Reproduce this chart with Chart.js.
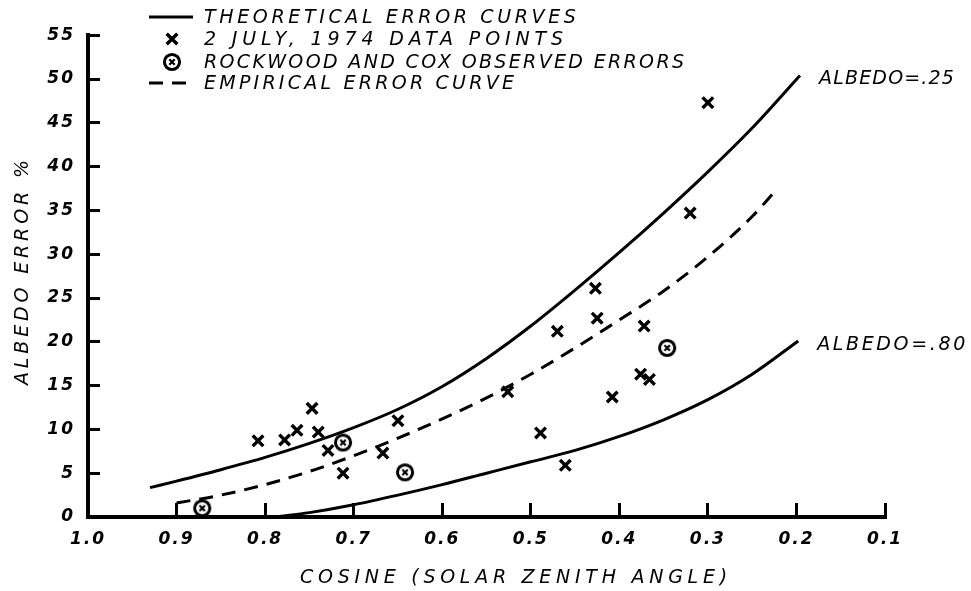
<!DOCTYPE html>
<html>
<head>
<meta charset="utf-8">
<script src="https://cdn.jsdelivr.net/npm/chart.js@4.4.1/dist/chart.umd.min.js"></script>
<style>
  html, body { margin: 0; padding: 0; background: #fff; }
  #wrap { width: 971px; height: 591px; position: relative; }
</style>
</head>
<body>
<div id="wrap"><canvas id="grafica"></canvas></div>
<script>
// Theoretical error curve, albedo .25
const upperX = [0.93, 0.90, 0.85, 0.80, 0.75, 0.70, 0.65, 0.60, 0.55, 0.50, 0.45, 0.40, 0.35, 0.30, 0.25, 0.196];
const upperY = [3.35, 4.1, 5.4, 6.8, 8.4, 10.2, 12.3, 14.9, 18.1, 21.8, 25.9, 30.2, 34.7, 39.4, 44.4, 50.4];

// Theoretical error curve, albedo .80
const lowerX = [0.787, 0.75, 0.70, 0.65, 0.60, 0.55, 0.50, 0.45, 0.40, 0.35, 0.30, 0.25, 0.198];
const lowerY = [0.0, 0.5, 1.4, 2.5, 3.7, 5.0, 6.3, 7.6, 9.2, 11.1, 13.4, 16.3, 20.1];

// Empirical error curve (dashed)
const empX = [0.90, 0.85, 0.80, 0.75, 0.70, 0.65, 0.60, 0.55, 0.50, 0.45, 0.40, 0.35, 0.30, 0.25, 0.224];
const empY = [1.6, 2.5, 3.7, 5.2, 7.0, 9.0, 11.2, 13.6, 16.3, 19.3, 22.5, 25.8, 29.7, 34.3, 37.2];

// 2 July 1974 data points
const julyX = [0.808, 0.778, 0.764, 0.747, 0.740, 0.729, 0.712, 0.667, 0.650, 0.526, 0.489, 0.470, 0.461, 0.427, 0.425, 0.408, 0.376, 0.372, 0.366, 0.320, 0.300];
const julyY = [8.7, 8.8, 9.9, 12.4, 9.7, 7.6, 5.0, 7.3, 11.0, 14.3, 9.6, 21.2, 5.9, 26.1, 22.7, 13.7, 16.3, 21.8, 15.7, 34.7, 47.3];

// Rockwood and Cox observed errors
const rockX = [0.871, 0.712, 0.642, 0.346];
const rockY = [1.0, 8.5, 5.1, 19.3];

const labels = ["THEORETICAL ERROR CURVES", "2 JULY, 1974 DATA POINTS", "ROCKWOOD AND COX OBSERVED ERRORS", "EMPIRICAL ERROR CURVE"];
const xTitle = "COSINE (SOLAR ZENITH ANGLE)";
const yTitle = "ALBEDO ERROR %";
const curveNames = ["ALBEDO=.25", "ALBEDO=.80"];

const FONT = '"DejaVu Sans", sans-serif';

function pares(xs, ys) {
    return xs.map((x, i) => ({ x: x, y: ys[i] }));
}

// circle with an x inside, used as point style
function crearCirculoX() {
    const c = document.createElement("canvas");
    c.width = 22;
    c.height = 22;
    const g = c.getContext("2d");
    g.strokeStyle = "#000";
    g.lineWidth = 3;
    g.beginPath();
    g.arc(11, 11, 7.6, 0, Math.PI * 2);
    g.stroke();
    g.lineWidth = 2.2;
    g.beginPath();
    g.moveTo(8.3, 8.3); g.lineTo(13.7, 13.7);
    g.moveTo(13.7, 8.3); g.lineTo(8.3, 13.7);
    g.stroke();
    return c;
}
const circuloX = crearCirculoX();

// text stretched to a given width with letter spacing
function textoAncho(ctx, txt, x, y, ancho) {
    ctx.letterSpacing = "0px";
    const w = ctx.measureText(txt).width;
    const s = (ancho - w) / (txt.length - 1);
    ctx.letterSpacing = s.toFixed(2) + "px";
    ctx.fillText(txt, x, y);
}

const textos = {
    id: "textos",
    beforeLayout(chart) { chart.ctx.letterSpacing = "2px"; },
    beforeDraw(chart) { chart.ctx.letterSpacing = "2px"; },
    afterDraw(chart) {
        const ctx = chart.ctx;
        const xs = chart.scales.x;
        const ys = chart.scales.y;
        const sets = chart.data.datasets;
        ctx.save();
        ctx.fillStyle = "#000";
        ctx.strokeStyle = "#000";
        ctx.font = "italic 19px " + FONT;
        ctx.textAlign = "left";
        ctx.textBaseline = "middle";

        // legend
        const orden = [0, 2, 3, 4];
        const filas = [17, 39, 62, 83];
        const anchos = [372, 359, 480, 310];
        orden.forEach((idx, i) => {
            const ds = sets[idx];
            const y = filas[i];
            if (ds.showLine) {
                ctx.save();
                ctx.lineWidth = ds.borderWidth;
                ctx.setLineDash(ds.borderDash || []);
                ctx.beginPath();
                ctx.moveTo(149, y);
                ctx.lineTo(193, y);
                ctx.stroke();
                ctx.restore();
            } else {
                ctx.save();
                ctx.lineWidth = ds.borderWidth;
                Chart.helpers.drawPoint(ctx, {
                    pointStyle: ds.pointStyle, radius: ds.pointRadius,
                    borderWidth: ds.borderWidth, rotation: 0
                }, 172, y);
                ctx.restore();
            }
            textoAncho(ctx, ds.label, 204, y + 1, anchos[i]);
        });

        // curve names at the end of each theoretical curve
        [[0, 135], [1, 148]].forEach(([idx, ancho], i) => {
            const d = sets[idx].data;
            const p = d[d.length - 1];
            textoAncho(ctx, curveNames[i], xs.getPixelForValue(p.x) + 19, ys.getPixelForValue(p.y) + 4, ancho);
        });

        // axis titles
        textoAncho(ctx, xTitle, 300, 578, 427);
        ctx.translate(23, 385);
        ctx.rotate(-Math.PI / 2);
        textoAncho(ctx, yTitle, 0, 0, 225);
        ctx.restore();
    }
};

const tickFont = { family: FONT, size: 17, style: "italic", weight: "bold" };

const ctx = document.getElementById("grafica").getContext("2d");
const chart = new Chart(ctx, {
    type: "scatter",
    data: {
        datasets: [
            {
                label: labels[0],
                data: pares(upperX, upperY),
                showLine: true,
                borderColor: "#000",
                borderWidth: 3,
                pointRadius: 0,
                cubicInterpolationMode: "monotone"
            },
            {
                label: labels[0],
                data: pares(lowerX, lowerY),
                showLine: true,
                borderColor: "#000",
                borderWidth: 3,
                pointRadius: 0,
                cubicInterpolationMode: "monotone"
            },
            {
                label: labels[1],
                data: pares(julyX, julyY),
                pointStyle: "crossRot",
                pointRadius: 7.5,
                borderWidth: 3.4,
                borderColor: "#000",
                backgroundColor: "#000"
            },
            {
                label: labels[2],
                data: pares(rockX, rockY),
                pointStyle: circuloX,
                pointRadius: 9,
                borderWidth: 0
            },
            {
                label: labels[3],
                data: pares(empX, empY),
                showLine: true,
                borderColor: "#000",
                borderWidth: 3,
                borderDash: [14, 9],
                pointRadius: 0,
                cubicInterpolationMode: "monotone"
            }
        ]
    },
    options: {
        responsive: true,
        maintainAspectRatio: false,
        animation: false,
        events: [],
        layout: { padding: { top: 30, right: 86, left: 0, bottom: 0 } },
        plugins: {
            legend: { display: false },
            tooltip: { enabled: false }
        },
        scales: {
            x: {
                type: "linear",
                reverse: true,
                min: 0.1,
                max: 1.0,
                border: { display: true, color: "#000", width: 4 },
                grid: { drawOnChartArea: false, drawTicks: true, tickLength: -14, color: "#000", lineWidth: 3 },
                ticks: {
                    stepSize: 0.1,
                    color: "#000",
                    font: tickFont,
                    padding: 26,
                    maxRotation: 0,
                    autoSkip: false,
                    callback: v => v.toFixed(1)
                },
                afterFit(scale) { scale.height = 74; }
            },
            y: {
                type: "linear",
                min: 0,
                max: 55,
                border: { display: true, color: "#000", width: 4 },
                grid: { drawOnChartArea: false, drawTicks: true, tickLength: -12, color: "#000", lineWidth: 3 },
                ticks: {
                    stepSize: 5,
                    color: "#000",
                    font: tickFont,
                    padding: 25
                },
                afterFit(scale) { scale.width = 88; }
            }
        }
    },
    plugins: [textos]
});
</script>
</body>
</html>
